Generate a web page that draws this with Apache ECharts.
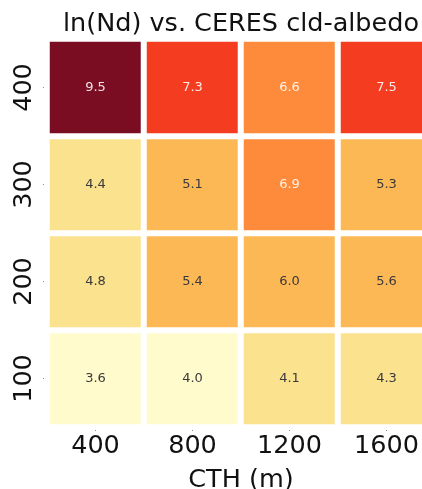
<!DOCTYPE html>
<html>
<head>
<meta charset="utf-8">
<script src="https://cdn.jsdelivr.net/npm/echarts@6/dist/echarts.min.js"></script>
<style>
  html, body { margin: 0; padding: 0; background: #fff; }
  #chart { width: 422px; height: 489px; }
</style>
</head>
<body>
<div id="chart"></div>
<script>
// Cloud-top height bins (x) and second bin axis (y)
const cthLabels = ['400', '800', '1200', '1600'];
const yLabels = ['100', '200', '300', '400'];

// ln(Nd) values, one array per y row, ordered by CTH
const row100 = [3.6, 4.0, 4.1, 4.3];
const row200 = [4.8, 5.4, 6.0, 5.6];
const row300 = [4.4, 5.1, 6.9, 5.3];
const row400 = [9.5, 7.3, 6.6, 7.5];

const rows = [row100, row200, row300, row400];
const cells = [];
rows.forEach((r, yi) => r.forEach((v, xi) => cells.push([xi, yi, v])));

const FONT = 'DejaVu Sans';
const BIG = 25.5;
const chart = echarts.init(document.getElementById('chart'), null, { renderer: 'canvas' });

chart.setOption({
  animation: false,
  backgroundColor: '#ffffff',
  title: {
    text: 'ln(Nd) vs. CERES cld-albedo',
    left: 236,
    top: 6,
    textAlign: 'center',
    textStyle: { fontFamily: FONT, fontSize: BIG, fontWeight: 'normal', color: '#111' }
  },
  grid: { left: 47, top: 39, width: 388, height: 388, containLabel: false, outerBoundsMode: 'none' },
  xAxis: {
    type: 'category',
    data: cthLabels,
    name: 'CTH (m)',
    nameLocation: 'middle',
    nameGap: 40,
    nameTextStyle: { fontFamily: FONT, fontSize: BIG, color: '#111' },
    axisLine: { show: false },
    axisTick: { show: true, alignWithLabel: true, length: 4, lineStyle: { color: '#666' } },
    axisLabel: { fontFamily: FONT, fontSize: BIG, color: '#111', margin: 6 },
    splitLine: { show: false }
  },
  yAxis: {
    type: 'category',
    data: yLabels,
    axisLine: { show: false },
    axisTick: { show: true, alignWithLabel: true, length: 4, lineStyle: { color: '#666' } },
    axisLabel: { fontFamily: FONT, fontSize: BIG, color: '#111', rotate: 90, margin: 10 },
    splitLine: { show: false }
  },
  visualMap: {
    type: 'piecewise',
    show: false,
    dimension: 2,
    pieces: [
      { lt: 4.05, color: '#fffbcc' },
      { gte: 4.05, lt: 5, color: '#fbe28e' },
      { gte: 5, lt: 6.05, color: '#fdb856' },
      { gte: 6.05, lt: 7, color: '#fd8b3b' },
      { gte: 7, lt: 8, color: '#f33c20' },
      { gte: 8, color: '#7b0d22' }
    ]
  },
  series: [{
    type: 'heatmap',
    data: cells.map(c => ({
      value: c,
      // light text on the dark cells
      label: { color: c[2] >= 6.5 ? 'rgba(255,255,255,0.88)' : '#3a3a3a' }
    })),
    itemStyle: { borderColor: '#ffffff', borderWidth: 6 },
    label: {
      show: true,
      fontFamily: FONT,
      fontSize: 13,
      formatter: p => p.value[2].toFixed(1)
    }
  }]
});
</script>
</body>
</html>
